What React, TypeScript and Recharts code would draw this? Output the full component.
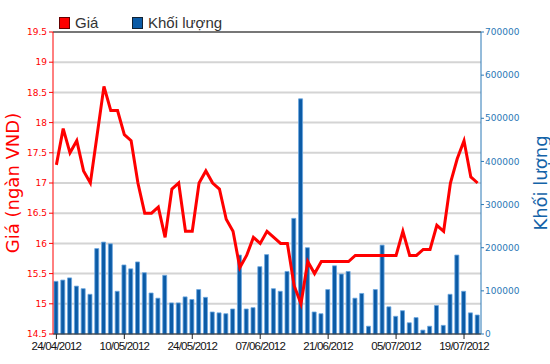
import React from "react";
import {
  ComposedChart,
  Bar,
  Line,
  XAxis,
  YAxis,
  CartesianGrid,
  ReferenceLine,
} from "recharts";

const dates = [
  "24/04/2012", "25/04/2012", "26/04/2012", "27/04/2012", "02/05/2012", "03/05/2012",
  "04/05/2012", "07/05/2012", "08/05/2012", "09/05/2012", "10/05/2012", "11/05/2012",
  "14/05/2012", "15/05/2012", "16/05/2012", "17/05/2012", "18/05/2012", "21/05/2012",
  "22/05/2012", "23/05/2012", "24/05/2012", "25/05/2012", "28/05/2012", "29/05/2012",
  "30/05/2012", "31/05/2012", "01/06/2012", "04/06/2012", "05/06/2012", "06/06/2012",
  "07/06/2012", "08/06/2012", "11/06/2012", "12/06/2012", "13/06/2012", "14/06/2012",
  "15/06/2012", "18/06/2012", "19/06/2012", "20/06/2012", "21/06/2012", "22/06/2012",
  "25/06/2012", "26/06/2012", "27/06/2012", "28/06/2012", "29/06/2012", "02/07/2012",
  "03/07/2012", "04/07/2012", "05/07/2012", "06/07/2012", "09/07/2012", "10/07/2012",
  "11/07/2012", "12/07/2012", "13/07/2012", "16/07/2012", "17/07/2012", "18/07/2012",
  "19/07/2012", "20/07/2012", "23/07/2012",
];

const prices = [
  17.3, 17.9, 17.5, 17.7, 17.2, 17.0, 17.8, 18.6, 18.2, 18.2, 17.8, 17.7,
  17.0, 16.5, 16.5, 16.6, 16.1, 16.9, 17.0, 16.2, 16.2, 17.0, 17.2, 17.0,
  16.9, 16.4, 16.2, 15.6, 15.8, 16.1, 16.0, 16.2, 16.1, 16.0, 16.0, 15.3,
  15.0, 15.7, 15.5, 15.7, 15.7, 15.7, 15.7, 15.7, 15.8, 15.8, 15.8, 15.8,
  15.8, 15.8, 15.8, 16.2, 15.8, 15.8, 15.9, 15.9, 16.3, 16.2, 17.0, 17.4,
  17.7, 17.1, 17.0,
];

const volumes = [
  122000, 125000, 130000, 111000, 105000, 92000, 198000, 213000, 209000, 99000,
  160000, 151000, 167000, 142000, 95000, 83000, 136000, 72000, 72000, 86000,
  80000, 103000, 85000, 51000, 49000, 47000, 58000, 183000, 58000, 61000,
  156000, 184000, 105000, 99000, 145000, 268000, 545000, 200000, 51000, 47000,
  103000, 158000, 139000, 145000, 83000, 94000, 18000, 103000, 206000, 63000,
  41000, 54000, 26000, 38000, 9000, 18000, 66000, 20000, 92000, 183000,
  99000, 49000, 44000,
];

const priceTicks = [14.5, 15, 15.5, 16, 16.5, 17, 17.5, 18, 18.5, 19, 19.5];
const volumeTicks = [0, 100000, 200000, 300000, 400000, 500000, 600000, 700000];

const data = dates.map((d, i) => ({ date: d, price: prices[i], volume: volumes[i] }));

const RED = "#ff0000";
const BLUE = "#0b5ba6";
const AXIS_BLUE = "#2a78b6";

const LegendItem = ({ color, border, text, left }) => (
  <div style={{ position: "absolute", left, top: 15, display: "flex", alignItems: "center" }}>
    <span
      style={{
        display: "inline-block",
        width: 9,
        height: 10,
        background: color,
        border: `1px solid ${border}`,
        marginRight: 5,
      }}
    />
    <span style={{ fontFamily: "'Liberation Sans', Arial", fontSize: 15, color: "#333", lineHeight: "15px" }}>
      {text}
    </span>
  </div>
);

export default function App() {
  return (
    <div style={{ position: "absolute", left: 0, top: 0, width: 550, height: 364, background: "#fff" }}>
      <LegendItem color={RED} border="#600" text="Giá" left={59} />
      <LegendItem color={BLUE} border="#123" text="Khối lượng" left={132} />
      <ComposedChart
        width={550}
        height={364}
        data={data}
        margin={{ top: 32, right: 0, bottom: 0, left: 0 }}
      >
        <CartesianGrid yAxisId="left" vertical={false} stroke="#d4d4d4" strokeWidth={2} />
        <XAxis
          dataKey="date"
          interval={9}
          height={30}
          tickSize={5}
          tickMargin={3}
          axisLine={{ stroke: "#222", strokeWidth: 1 }}
          tickLine={{ stroke: "#222" }}
          tick={{ fill: "#111", fontSize: 11.5, letterSpacing: -0.8, fontFamily: "'Liberation Sans', Arial" }}
        />
        <YAxis
          yAxisId="left"
          orientation="left"
          width={53}
          domain={[14.5, 19.5]}
          ticks={priceTicks}
          interval={0}
          tickSize={4}
          tickMargin={2}
          axisLine={{ stroke: RED }}
          tickLine={{ stroke: RED }}
          tick={{ fill: RED, fontSize: 9, fontFamily: "'DejaVu Sans'" }}
          label={{
            value: "Giá (ngàn VND)",
            angle: -90,
            position: "insideLeft",
            offset: 13,
            fill: RED,
            fontSize: 18,
            fontFamily: "'DejaVu Sans'",
            style: { textAnchor: "middle" },
          }}
        />
        <YAxis
          yAxisId="right"
          orientation="right"
          width={69}
          domain={[0, 700000]}
          ticks={volumeTicks}
          interval={0}
          tickSize={3}
          tickMargin={1}
          axisLine={{ stroke: AXIS_BLUE }}
          tickLine={{ stroke: AXIS_BLUE }}
          tick={{ fill: AXIS_BLUE, fontSize: 9, fontFamily: "'DejaVu Sans'" }}
          label={{
            value: "Khối lượng",
            angle: -90,
            position: "insideRight",
            offset: 9,
            fill: "#1463a8",
            fontSize: 18,
            fontFamily: "'DejaVu Sans'",
            style: { textAnchor: "middle" },
          }}
        />
        <ReferenceLine yAxisId="left" y={19.5} stroke="#777" strokeWidth={2} />
        <Bar
          yAxisId="right"
          dataKey="volume"
          fill={BLUE}
          stroke="#6aa6e0"
          strokeWidth={0.8}
          barSize={4}
          isAnimationActive={false}
        />
        <Line
          yAxisId="left"
          type="linear"
          dataKey="price"
          stroke={RED}
          strokeWidth={3}
          dot={false}
          activeDot={false}
          isAnimationActive={false}
        />
      </ComposedChart>
    </div>
  );
}
